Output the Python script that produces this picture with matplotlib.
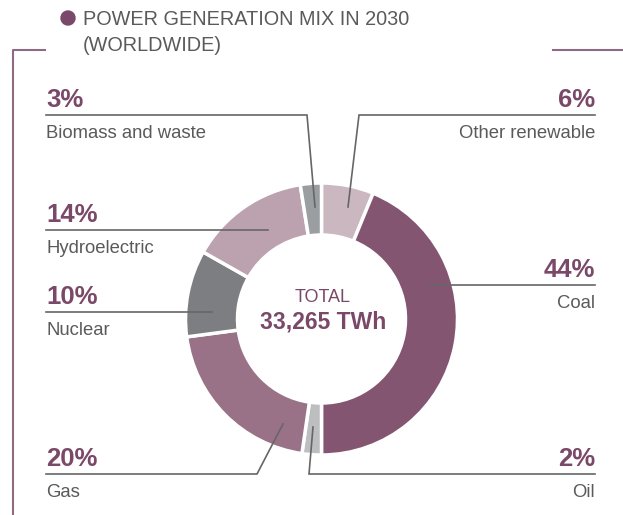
import matplotlib.pyplot as plt
from matplotlib.patches import Circle

# data, clockwise from the top
sources = ['Other renewable', 'Coal', 'Oil', 'Gas', 'Nuclear', 'Hydroelectric', 'Biomass and waste']
shares = [6.2, 43.8, 2.3, 20.6, 10.3, 14.3, 2.5]
pct_labels = ['6%', '44%', '2%', '20%', '10%', '14%', '3%']
colors = ['#cbb7c0', '#845571', '#bdbec0', '#9a7288', '#7d7e82', '#bca2af', '#9a9ea1']
total_text = '33,265 TWh'

W, H = 623, 515
PURPLE = '#7a4868'
GREY_TXT = '#5a5a5a'
LINE = '#666666'

plt.rcParams['font.family'] = ['Liberation Sans', 'DejaVu Sans']

def Y(py):
    # pixel row -> data y
    return H - py

fig = plt.figure(figsize=(W / 100, H / 100), dpi=100)
ax = fig.add_axes([0, 0, 1, 1])

cx, cy, r_out = 321.5, 319, 136
ax.pie(shares, colors=colors, startangle=90, counterclock=False,
       radius=r_out, center=(cx, Y(cy)),
       wedgeprops=dict(width=52, edgecolor='white', linewidth=2.5))

# label layout: side, underline row, elbow x, leader end point (pixels)
layout = {
    'Other renewable':   ('R', 115, 359, (348, 207)),
    'Coal':              ('R', 285, 430, (430, 285)),
    'Oil':               ('R', 474, 309, (313, 427)),
    'Gas':               ('L', 474, 257, (283, 424)),
    'Nuclear':           ('L', 312, 212, (212, 312)),
    'Hydroelectric':     ('L', 230, 268, (268, 230)),
    'Biomass and waste': ('L', 115, 307, (315, 207)),
}
x_left, x_right = 46, 595

for name, pct in zip(sources, pct_labels):
    side, uy, ex, (lx, ly) = layout[name]
    if side == 'L':
        tx, ha = x_left, 'left'
        xs = [x_left, ex, lx]
    else:
        tx, ha = x_right, 'right'
        xs = [x_right, ex, lx]
    ax.plot(xs, [Y(uy), Y(uy), Y(ly)], color=LINE, lw=1.2, zorder=5,
            solid_joinstyle='miter')
    ax.text(tx, Y(uy - 8), pct, ha=ha, va='baseline', fontsize=18.5,
            fontweight='bold', color=PURPLE)
    ax.text(tx, Y(uy + 23), name, ha=ha, va='baseline', fontsize=13.3,
            color=GREY_TXT)

# centre text
ax.text(cx + 1.5, Y(297), 'TOTAL', ha='center', va='center', fontsize=13,
        color=PURPLE)
ax.text(cx + 1.5, Y(322), total_text, ha='center', va='center', fontsize=16.5,
        fontweight='bold', color=PURPLE)

# title with bullet
ax.add_patch(Circle((68, Y(18)), 7, color=PURPLE, zorder=5))
ax.text(83, Y(25), 'POWER GENERATION MIX IN 2030', ha='left', va='baseline',
        fontsize=14.3, color=GREY_TXT)
ax.text(83, Y(51), '(WORLDWIDE)', ha='left', va='baseline',
        fontsize=14.3, color=GREY_TXT)

# frame bracket
FRAME = '#8d6b82'
ax.plot([45, 13, 13], [Y(50), Y(50), Y(H)], color=FRAME, lw=1.5)
ax.plot([553, W], [Y(50), Y(50)], color=FRAME, lw=1.5)

ax.set_xlim(0, W)
ax.set_ylim(0, H)
ax.set_aspect('equal')
ax.axis('off')

fig.savefig('out.png', dpi=100)
